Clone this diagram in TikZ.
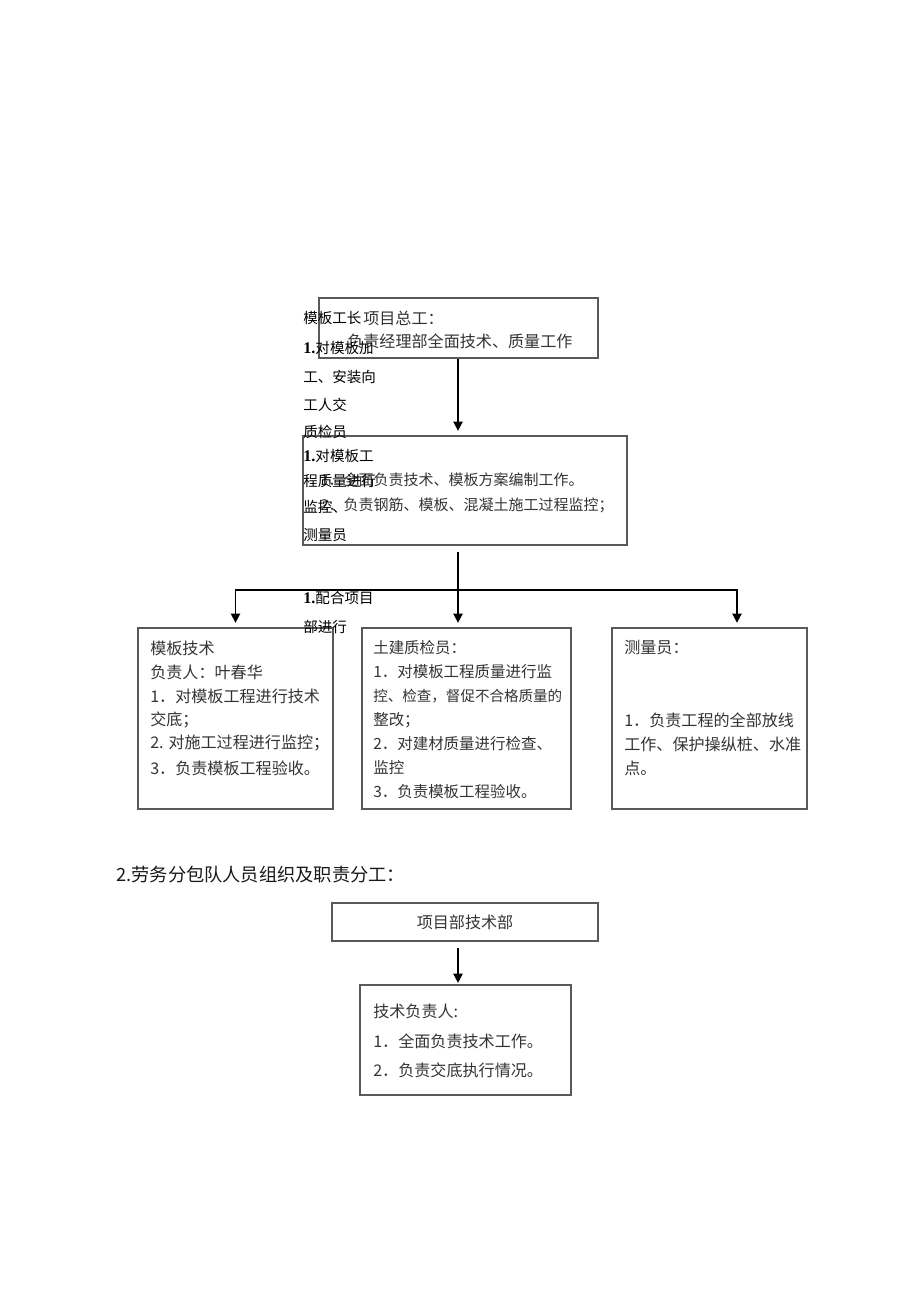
\documentclass[tikz,border=0pt]{standalone}
\usepackage{fontspec}
\newfontfamily\cjk{Noto Sans CJK SC}
\newfontfamily\lat{Liberation Serif}
\usetikzlibrary{arrows.meta,fit}
\begin{document}
\begin{tikzpicture}[x=0.6467pt, y=-0.6467pt]
        \tikzstyle{every node} = [font=\cjk\fontsize{10.4}{12}\selectfont, inner sep=0pt]
        \tikzstyle{box} = [draw=black!65, line width=0.7pt, inner sep=0pt]
        \tikzstyle{txt} = [anchor=west, text=black!80]
        \tikzstyle{lft} = [anchor=west, text=black, font=\cjk\fontsize{9.4}{11}\selectfont]
        \tikzstyle{arr} = [draw=black, line width=1.1pt, -{Triangle[length=6pt, width=6pt]}]
        \useasboundingbox (0,0) rectangle (920,1301);

        % boxes
        \node[box, fit={(319,298) (598,358)}](b1){};
        \node[box, fit={(303,436) (627,545)}](b2){};
        \node[box, fit={(138,628) (333,809)}](b3){};
        \node[box, fit={(362,628) (571,809)}](b4){};
        \node[box, fit={(612,628) (807,809)}](b5){};
        \node[box, fit={(332,903) (598,941)}](b6){};
        \node[box, fit={(360,985) (571,1095)}](b7){};

        \coordinate (m) at (458,590);
        \coordinate (r) at (737,590);

        % texts in the boxes
        \node[txt] (p1) at (363,318) {项目总工：};
        \node[txt] (p2) at (347,341) {负责经理部全面技术、质量工作};
        \node[txt, font=\cjk\fontsize{9.7}{11}\selectfont] (q1) at (320,480) {1．全面负责技术、模板方案编制工作。};
        \node[txt, font=\cjk\fontsize{9.7}{11}\selectfont] (q2) at (320,505) {2．负责钢筋、模板、混凝土施工过程监控；};

        \node[txt] (m1) at (150,648) {模板技术};
        \node[txt] (m2) at (150,672) {负责人：叶春华};
        \node[txt] (m3) at (150,696) {1．对模板工程进行技术};
        \node[txt] (m4) at (150,720) {交底；};
        \node[txt] (m5) at (150,743) {2. 对施工过程进行监控；};
        \node[txt] (m6) at (150,768) {3．负责模板工程验收。};

        \tikzstyle{txt} = [anchor=west, text=black!80, font=\cjk\fontsize{10}{12}\selectfont]
        \node[txt] (z1) at (373,648) {土建质检员：};
        \node[txt] (z2) at (373,672) {1．对模板工程质量进行监};
        \node[txt, font=\cjk\fontsize{9.4}{11}\selectfont] (z3) at (373,696) {控、检查，督促不合格质量的};
        \node[txt] (z4) at (373,720) {整改；};
        \node[txt] (z5) at (373,744) {2．对建材质量进行检查、};
        \node[txt] (z6) at (373,768) {监控};
        \node[txt] (z7) at (373,792) {3．负责模板工程验收。};

        \tikzstyle{txt} = [anchor=west, text=black!80]
        \node[txt] (c1) at (624,648) {测量员：};
        \node[txt] (c2) at (624,720) {1．负责工程的全部放线};
        \node[txt] (c3) at (624,744) {工作、保护操纵桩、水准};
        \node[txt] (c4) at (624,768) {点。};

        \node[text=black!80] (d1) at (b6) {项目部技术部};
        \node[txt] (e1) at (373,1011) {技术负责人:};
        \node[txt] (e2) at (373,1041) {1．全面负责技术工作。};
        \node[txt] (e3) at (373,1070) {2．负责交底执行情况。};

        \node[anchor=west, text=black!90, font=\cjk\fontsize{11.8}{14}\selectfont] (h) at (116,875) {2.劳务分包队人员组织及职责分工：};

        % loose text lying over the boxes
        \node[lft] (l1) at (303,318) {模板工长};
        \node[lft] (l2) at (303,348) {{\lat\bfseries\fontsize{10.5}{11}\selectfont 1.}对模板加};
        \node[lft] (l3) at (303,377) {工、安装向};
        \node[lft] (l4) at (303,405) {工人交};
        \node[lft] (l5) at (303,432) {质检员};
        \node[lft] (l6) at (303,456) {{\lat\bfseries\fontsize{10.5}{11}\selectfont 1.}对模板工};
        \node[lft] (l7) at (303,481) {程质量进行};
        \node[lft] (l8) at (303,507) {监控、};
        \node[lft] (l9) at (303,535) {测量员};
        \node[lft] (l10) at (303,598) {{\lat\bfseries\fontsize{10.5}{11}\selectfont 1.}配合项目};
        \node[lft] (l11) at (303,627) {部进行};

        % connectors
        \draw[arr, shorten >=3pt] (b1.south -| m) -- (b2.north -| m);
        \draw[line width=1.1pt, shorten <=4pt] (b2.south -| m) -- (m);
        \draw[arr, shorten >=3pt] (m) -| (b3.north);
        \draw[arr, shorten >=3pt] (m) -- (b4.north -| m);
        \draw[arr, shorten >=3pt] (m) -- (r) -- (b5.north -| r);
        \draw[arr, shorten <=4pt, shorten >=1pt] (b6.south -| m) -- (b7.north -| m);
\end{tikzpicture}
\end{document}
